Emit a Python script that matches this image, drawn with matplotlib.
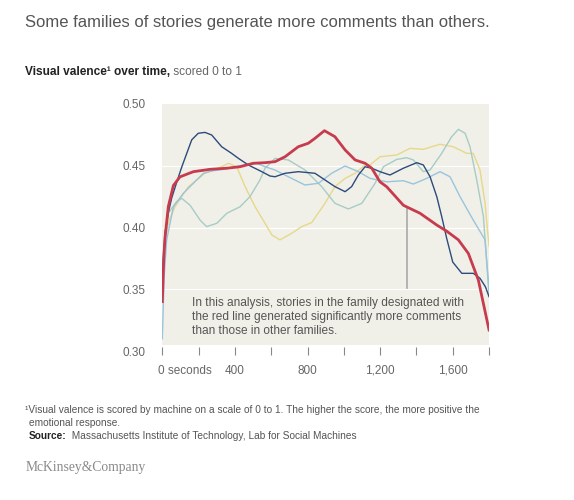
import matplotlib
matplotlib.use("Agg")
import matplotlib.pyplot as plt
from matplotlib.transforms import ScaledTranslation

plt.rcParams['font.family'] = ['Liberation Sans', 'DejaVu Sans']

# seconds / visual valence
red_x = [0, 8, 15, 33, 61, 97, 171, 263, 355, 428, 501, 566, 621, 676, 749, 804, 841, 893, 951,
         1007, 1062, 1117, 1154, 1199, 1236, 1328, 1420, 1512, 1567, 1631, 1686, 1741, 1800]
red_y = [0.340, 0.375, 0.392, 0.417, 0.434, 0.441, 0.4452, 0.4471, 0.448, 0.4492, 0.452, 0.4525,
         0.4533, 0.4573, 0.4654, 0.4682, 0.4722, 0.4784, 0.4735, 0.4628, 0.4547, 0.452, 0.448,
         0.437, 0.433, 0.418, 0.4115, 0.402, 0.397, 0.390, 0.379, 0.3575, 0.317]

navy_x = [0, 15, 33, 52, 80, 107, 162, 198, 235, 272, 327, 382, 419, 474, 548, 593, 621, 676,
          749, 841, 896, 951, 1007, 1043, 1080, 1117, 1154, 1199, 1254, 1328, 1402, 1438, 1475,
          1512, 1539, 1567, 1600, 1650, 1713, 1750, 1780, 1800]
navy_y = [0.36, 0.395, 0.412, 0.424, 0.437, 0.449, 0.471, 0.4763, 0.477, 0.4749, 0.4654, 0.460,
          0.456, 0.4506, 0.4452, 0.4417, 0.4411, 0.4439, 0.4452, 0.4439, 0.4385, 0.4331, 0.429,
          0.4331, 0.4425, 0.4492, 0.448, 0.4452, 0.4425, 0.448, 0.4525, 0.4506, 0.4411, 0.425,
          0.409, 0.391, 0.372, 0.3629, 0.3629, 0.3589, 0.352, 0.344]

yellow_x = [0, 15, 35, 70, 143, 235, 327, 364, 410, 456, 511, 566, 603, 648, 713, 768, 823, 896,
            951, 1007, 1062, 1117, 1144, 1199, 1291, 1365, 1438, 1530, 1603, 1677, 1713, 1750,
            1778, 1790, 1800]
yellow_y = [0.35, 0.39, 0.405, 0.4168, 0.433, 0.4439, 0.4492, 0.452, 0.4492, 0.4331, 0.4168,
            0.4034, 0.394, 0.390, 0.3953, 0.4007, 0.4040, 0.4196, 0.433, 0.4398, 0.4439, 0.4506,
            0.4506, 0.4573, 0.4587, 0.4641, 0.4633, 0.4674, 0.4654, 0.460, 0.460, 0.4466, 0.4196,
            0.400, 0.385]

teal_x = [0, 15, 35, 79, 107, 153, 208, 244, 300, 355, 428, 483, 538, 566, 621, 694, 786, 878,
          951, 1025, 1099, 1172, 1218, 1291, 1346, 1383, 1438, 1475, 1539, 1594, 1631, 1668, 1695,
          1732, 1769, 1800]
teal_y = [0.37, 0.397, 0.412, 0.421, 0.4236, 0.418, 0.406, 0.4007, 0.4034, 0.4115, 0.4168, 0.425,
          0.4385, 0.448, 0.456, 0.4547, 0.4466, 0.4331, 0.4196, 0.415, 0.4196, 0.4358, 0.4492,
          0.4551, 0.4565, 0.4547, 0.4452, 0.4466, 0.460, 0.4735, 0.4795, 0.4763, 0.4654, 0.4385,
          0.4088, 0.345]

blue_x = [0, 10, 24, 61, 116, 171, 226, 281, 336, 400, 460, 520, 566, 620, 694, 786, 860, 933,
          1007, 1080, 1144, 1236, 1328, 1383, 1457, 1530, 1585, 1640, 1713, 1778, 1800]
blue_y = [0.31, 0.36, 0.39, 0.4168, 0.4277, 0.4358, 0.4439, 0.446, 0.447, 0.449, 0.451, 0.452,
          0.4492, 0.4466, 0.4411, 0.4344, 0.4358, 0.4439, 0.4498, 0.4452, 0.4398, 0.437, 0.4379,
          0.4352, 0.4398, 0.4452, 0.4411, 0.425, 0.406, 0.390, 0.35]

x_ticks = list(range(0, 1801, 200))
x_labels = ['0 seconds', '', '400', '', '800', '', '1,200', '', '1,600', '']
y_ticks = [0.30, 0.35, 0.40, 0.45, 0.50]
y_labels = ['0.30', '0.35', '0.40', '0.45', '0.50']

note_x = 1350
note_y = 0.4165

bg = '#f1f0e8'
gray = '#666666'

fig = plt.figure(figsize=(5.74, 5.0), dpi=100)
ax = fig.add_axes([0.2828, 0.298, 0.5692, 0.494])
ax.set_facecolor('none')
ax.set_xlim(0, 1800)
ax.set_ylim(0.30, 0.50)

ax.axhspan(0.305, 0.50, color=bg, lw=0, zorder=0)
for v in y_ticks[1:-1]:
    ax.axhline(v, color='white', lw=0.8, zorder=1)

ax.plot(yellow_x, yellow_y, color='#e6d88a', lw=1.0, zorder=2)
ax.plot(teal_x, teal_y, color='#a6ccc6', lw=1.0, zorder=2)
ax.plot(blue_x, blue_y, color='#99c4dc', lw=1.0, zorder=2)
ax.plot(navy_x, navy_y, color='#2d4b7b', lw=1.0, zorder=3)
ax.plot(red_x, red_y, color='#c63c4e', lw=2.0, zorder=4)

ax.plot([note_x, note_x], [0.351, note_y], color='#a8a8a8', lw=1.2, zorder=1)
ax.text(165, 0.3275, "In this analysis, stories in the family designated with\n"
        "the red line generated significantly more comments\n"
        "than those in other families.",
        fontsize=8.6, color='#555555', va='center', ha='left', linespacing=1.2, zorder=5)

for s in ax.spines.values():
    s.set_visible(False)
ax.set_xticks(x_ticks)
ax.set_xticklabels(x_labels)
ax.set_yticks(y_ticks)
ax.set_yticklabels(y_labels)
ax.tick_params(axis='x', direction='inout', length=6, width=0.8, color='#888888',
               labelsize=8.5, labelcolor=gray, pad=7)
ax.tick_params(axis='y', length=0, labelsize=8.5, labelcolor=gray, pad=12)
first = ax.get_xticklabels()[0]
first.set_horizontalalignment('left')
first.set_transform(first.get_transform() + ScaledTranslation(-3 / 72, 0, fig.dpi_scale_trans))

fig.text(0.044, 0.956, 'Some families of stories generate more comments than others.',
         fontsize=12, color='#555555', va='center')
t = fig.text(0.044, 0.856, 'Visual valence\u00b9 over time,', fontsize=8.6,
             fontweight='bold', color='#222222', va='center')
ax.annotate(' scored 0 to 1', xy=(1, 0.5), xycoords=t, va='center', ha='left',
            fontsize=8.6, color=gray, annotation_clip=False)

fig.text(0.044, 0.180, '\u00b9Visual valence is scored by machine on a scale of 0 to 1. '
         'The higher the score, the more positive the', fontsize=7.3, color='#555555', va='center')
fig.text(0.050, 0.154, 'emotional response.', fontsize=7.3, color='#555555', va='center')
s = fig.text(0.050, 0.128, 'Source:', fontsize=7.3, fontweight='bold', color='#222222',
             va='center')
ax.annotate('  Massachusetts Institute of Technology, Lab for Social Machines', xy=(1, 0.5),
            xycoords=s, va='center', ha='left', fontsize=7.3, color='#555555',
            annotation_clip=False)
fig.text(0.044, 0.066, 'McKinsey&Company', family='Liberation Serif', fontsize=9.8,
         color='#8a8a8a', va='center')

fig.savefig('out.png', dpi=100)
